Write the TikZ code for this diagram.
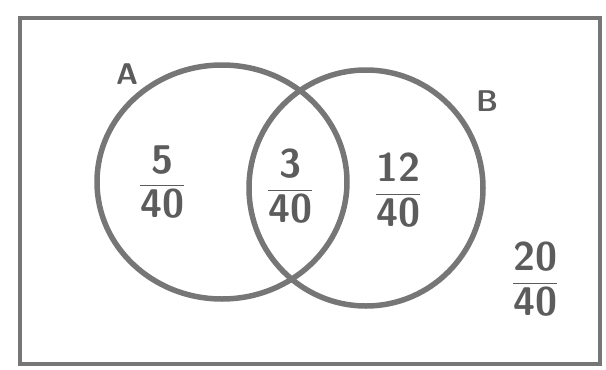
\documentclass[tikz,border=0pt]{standalone}
\usepackage{amsmath}
\usetikzlibrary{positioning}
\definecolor{pencil}{RGB}{118,118,118}
\definecolor{graphite}{RGB}{92,92,92}

\begin{document}
\begin{tikzpicture}[x=1pt,y=-1pt,
    set/.style={draw=pencil, line width=5.5pt},
    prob/.style={text=graphite, font=\fontsize{40}{44}\selectfont\sffamily\bfseries\boldmath},
    setname/.style={text=graphite, font=\fontsize{30}{34}\selectfont\sffamily\bfseries}]
    \useasboundingbox (0,0) rectangle (606,370);

    % frame
    \draw[pencil, line width=4.5pt] (20,18) rectangle (600,364);

    % sets
    \draw[set] (222,182) ellipse [x radius=125, y radius=117];
    \draw[set] (366,188) ellipse [x radius=117, y radius=118];
    \node[setname] (nameA) at (127,74) {A};
    \node[setname] (nameB) at (487,101) {B};

    % probabilities
    \foreach \nm/\x/\y/\num in {onlyA/162/182/5, both/290/186/3, onlyB/398/190/12, none/535/279/20} {
        \node[prob] (p\nm) at (\x,\y) {$\dfrac{\textbf{\num}}{\textbf{40}}$};
    }
\end{tikzpicture}
\end{document}
